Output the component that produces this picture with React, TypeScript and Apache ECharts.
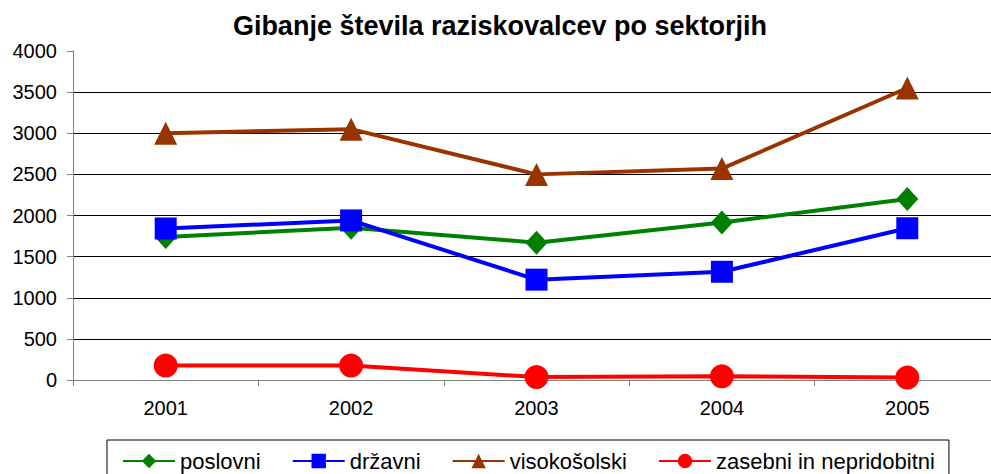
import React, { useEffect, useRef } from "react";
import * as echarts from "echarts";

const titleText = "Gibanje števila raziskovalcev po sektorjih";
const years = ["2001", "2002", "2003", "2004", "2005"];
const seriesNames = ["poslovni", "državni", "visokošolski", "zasebni in nepridobitni"];
const poslovni = [1740, 1850, 1670, 1915, 2200];
const drzavni = [1842, 1940, 1220, 1316, 1845];
const visokosolski = [3000, 3050, 2500, 2570, 3550];
const zasebni = [175, 175, 36, 45, 30];

const FONT = "'Liberation Sans', Arial, sans-serif";

export default function App() {
  const ref = useRef<HTMLDivElement>(null);
  useEffect(() => {
    if (!ref.current) return;
    const chart = echarts.init(ref.current, undefined, { renderer: "svg" });
    const mk = (name: string, data: number[], color: string, symbol: string, size: any) => ({
      name,
      type: "line",
      data,
      symbol,
      symbolSize: size,
      showAllSymbol: true,
      lineStyle: { color, width: 4 },
      itemStyle: { color },
      emphasis: { disabled: true },
    });
    chart.setOption({
      animation: false,
      textStyle: { fontFamily: FONT },
      title: {
        text: titleText,
        left: 500,
        top: 12,
        padding: 0,
        textAlign: "center",
        textStyle: { fontSize: 27, fontWeight: "bold", color: "#000", fontFamily: FONT },
      },
      grid: { left: 73, top: 51, right: 0, bottom: 94, containLabel: false },
      xAxis: {
        type: "category",
        data: years,
        boundaryGap: true,
        axisLine: { lineStyle: { color: "#808080", width: 1 } },
        axisTick: { show: true, length: 6, lineStyle: { color: "#808080" } },
        axisLabel: { fontSize: 20, color: "#000", margin: 18, fontFamily: FONT },
      },
      yAxis: {
        type: "value",
        min: 0,
        max: 4000,
        interval: 500,
        axisLine: { show: true, lineStyle: { color: "#808080", width: 1 } },
        axisTick: { show: true, length: 6, lineStyle: { color: "#808080" } },
        axisLabel: {
          fontSize: 20,
          color: "#000",
          margin: 16,
          fontFamily: FONT,
          formatter: (v: number) => String(v),
        },
        splitLine: { show: true, showMaxLine: false, lineStyle: { color: "#000", width: 1 } },
      },
      legend: {
        data: seriesNames,
        left: 107,
        top: 440,
        padding: [10, 14, 10, 15],
        itemGap: 31,
        itemWidth: 52,
        itemHeight: 18,
        borderColor: "#000",
        borderWidth: 1,
        textStyle: { fontSize: 22, color: "#000", fontFamily: FONT },
      },
      series: [
        mk(seriesNames[0], poslovni, "#008000", "diamond", [22, 24]),
        mk(seriesNames[1], drzavni, "#0000FF", "rect", 22),
        mk(seriesNames[2], visokosolski, "#993300", "triangle", 23),
        mk(seriesNames[3], zasebni, "#FF0000", "circle", 24),
      ],
    });
    return () => chart.dispose();
  }, []);
  return (
    <div
      style={{
        position: "absolute",
        left: 0,
        top: 0,
        width: 991,
        height: 474,
        overflow: "hidden",
        background: "#fff",
      }}
    >
      <div ref={ref} style={{ width: 1000, height: 474 }} />
    </div>
  );
}
